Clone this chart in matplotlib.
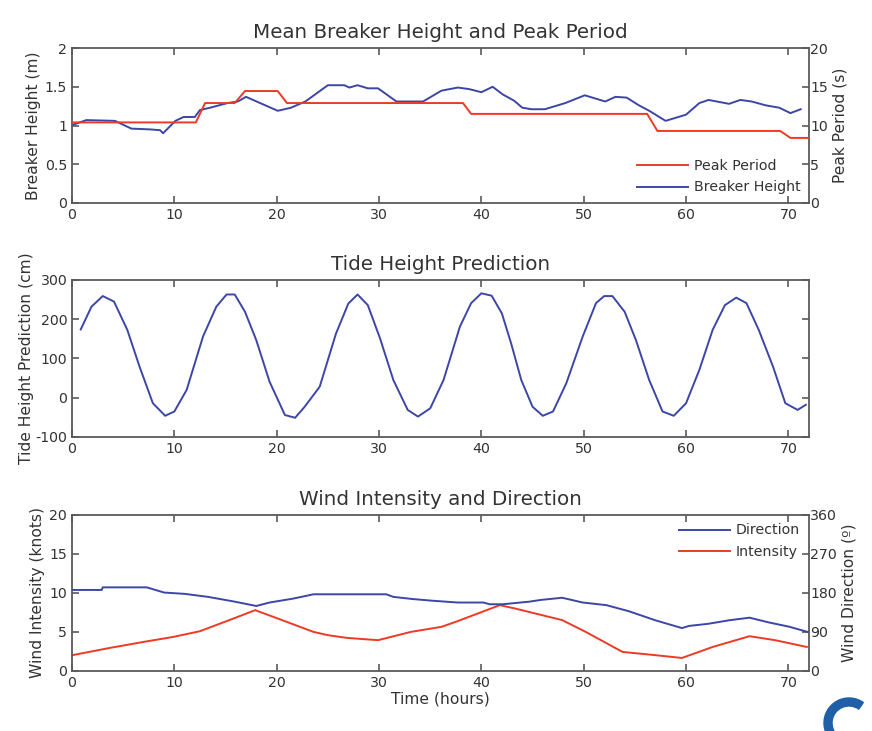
import matplotlib
matplotlib.use("Agg")
import matplotlib.pyplot as plt
from matplotlib.patches import Wedge
import numpy as np

plt.rcParams['font.family'] = ['DejaVu Sans']
plt.rcParams['axes.unicode_minus'] = False

# Data (hours, value)
bh_hours = [0.1, 1.4, 4.2, 5.8, 7.6, 8.6, 8.9, 10.1, 10.9, 12.0, 12.5, 13.5, 15.2, 16.2, 17.0,
            20.1, 21.4, 22.8, 25.0, 26.6, 27.1, 27.9, 28.9, 29.9, 31.7, 34.3, 36.1, 37.7,
            38.8, 40.0, 41.1, 42.1, 43.2, 44.0, 44.9, 46.2, 48.2, 50.1, 51.1, 52.1, 53.1,
            54.2, 55.4, 56.4, 58.0, 60.0, 61.3, 62.2, 64.2, 65.3, 66.4, 67.8, 69.1, 70.2, 71.2]
bh_m = [1.01, 1.07, 1.06, 0.96, 0.95, 0.94, 0.90, 1.06, 1.11, 1.11, 1.20, 1.23, 1.29, 1.31, 1.37,
        1.19, 1.23, 1.31, 1.52, 1.52, 1.49, 1.52, 1.48, 1.48, 1.31, 1.31, 1.45, 1.49,
        1.47, 1.43, 1.50, 1.40, 1.32, 1.23, 1.21, 1.21, 1.29, 1.39, 1.35, 1.31, 1.37,
        1.36, 1.26, 1.19, 1.06, 1.14, 1.29, 1.33, 1.28, 1.33, 1.31, 1.26, 1.23, 1.16, 1.21]

pp_hours = [0.0, 12.1, 13.0, 15.9, 16.9, 20.1, 21.0, 38.2, 39.0, 56.2, 57.2, 69.2, 70.2, 72.0]
pp_s = [10.4, 10.4, 12.9, 12.9, 14.45, 14.45, 12.9, 12.9, 11.5, 11.5, 9.3, 9.3, 8.4, 8.4]

tide_hours = [0.85, 1.9, 3.0, 4.1, 5.4, 6.6, 7.9, 9.1, 10.0, 11.2, 12.8, 14.1, 15.1, 15.9, 16.9,
              18.0, 19.3, 20.8, 21.8, 22.7, 24.2, 25.8, 27.0, 27.9, 28.9, 30.1, 31.4, 32.8,
              33.8, 35.0, 36.3, 37.9, 39.0, 40.0, 41.0, 42.0, 42.9, 43.9, 45.0, 46.0, 47.0,
              48.3, 49.9, 51.2, 52.0, 52.8, 54.0, 55.1, 56.4, 57.7, 58.8, 60.0, 61.3, 62.6,
              63.8, 64.9, 65.9, 67.1, 68.5, 69.7, 70.9, 71.7]
tide_cm = [174, 232, 259, 245, 173, 79, -14, -46, -35, 20, 156, 232, 263, 263, 219,
           147, 41, -44, -51, -24, 28, 164, 240, 263, 236, 151, 45, -31,
           -48, -27, 45, 181, 241, 266, 260, 215, 139, 45, -23, -46, -35,
           37, 156, 241, 259, 259, 219, 147, 45, -35, -46, -14, 71, 173,
           236, 255, 241, 173, 79, -14, -31, -18]

dir_hours = [0.0, 2.9, 3.0, 7.3, 9.0, 11.0, 13.3, 15.9, 18.0, 19.3, 21.6, 23.6, 30.7, 31.4,
             33.3, 35.3, 37.7, 40.2, 40.8, 42.1, 44.7, 45.8, 47.9, 49.9, 52.2, 54.4, 57.0,
             59.6, 60.3, 62.2, 64.2, 66.2, 68.1, 70.1, 71.9]
dir_deg = [187, 187, 193, 193, 181, 178, 171, 160, 150, 158, 167, 177, 177, 171,
           166, 162, 158, 158, 154, 154, 160, 164, 169, 158, 152, 138, 117,
           99, 104, 109, 117, 123, 112, 102, 90]

int_hours = [0.0, 3.7, 7.0, 9.9, 12.5, 15.1, 17.9, 20.1, 23.6, 25.0, 26.9, 29.9, 33.1, 36.1,
             37.7, 41.8, 43.3, 47.9, 50.2, 53.8, 56.4, 59.6, 62.6, 66.2, 68.7, 71.8]
int_kn = [2.02, 2.96, 3.73, 4.37, 5.1, 6.39, 7.8, 6.73, 5.01, 4.59, 4.24, 3.95, 5.01, 5.66,
          6.4, 8.44, 8.01, 6.52, 5.01, 2.44, 2.11, 1.67, 3.08, 4.46, 3.95, 3.08]

red = '#ee3a24'
blue = '#3c46a6'
spine_c = '#5a5a5a'
text_c = '#333333'
lw = 1.4
tick_fs = 10.2
label_fs = 11.2
title_fs = 14.3
legend_fs = 10.2


def style(ax):
    for s in ax.spines.values():
        s.set_color(spine_c)
        s.set_linewidth(1.3)
    ax.tick_params(direction='in', length=5, width=1.2, color=spine_c,
                   labelcolor=text_c, labelsize=tick_fs, top=True, right=False)
    ax.set_xlim(0, 72)
    ax.set_xticks([0, 10, 20, 30, 40, 50, 60, 70])


def style_right(ax):
    ax.tick_params(direction='in', length=5, width=1.2, color=spine_c,
                   labelcolor=text_c, labelsize=tick_fs, pad=1)
    for s in ax.spines.values():
        s.set_visible(False)


fig = plt.figure(figsize=(8.72, 7.31), dpi=100)

# Top: breaker height / peak period
ax1 = fig.add_axes([0.0826, 0.7223, 0.845, 0.212])
ax1r = ax1.twinx()
style(ax1)
style_right(ax1r)
ax1.plot(bh_hours, bh_m, color=blue, lw=lw, label='Breaker Height')
ax1r.plot(pp_hours, pp_s, color=red, lw=lw, label='Peak Period')
ax1.set_ylim(0, 2)
ax1.set_yticks([0, 0.5, 1, 1.5, 2])
ax1.set_yticklabels(['0', '0.5', '1', '1.5', '2'])
ax1r.set_ylim(0, 20)
ax1r.set_yticks([0, 5, 10, 15, 20])
ax1.set_ylabel('Breaker Height (m)', color=text_c, fontsize=label_fs, labelpad=3)
ax1r.set_ylabel('Peak Period (s)', color=text_c, fontsize=label_fs, labelpad=3)
ax1.set_title('Mean Breaker Height and Peak Period', color=text_c, fontsize=title_fs, pad=7)
h1, l1 = ax1r.get_legend_handles_labels()
h2, l2 = ax1.get_legend_handles_labels()
ax1r.legend(h1 + h2, l1 + l2, loc='lower right', frameon=False, fontsize=legend_fs,
            handlelength=3.6, labelcolor=text_c, borderaxespad=0.2, handletextpad=0.4,
            labelspacing=0.5)

# Middle: tide
ax2 = fig.add_axes([0.0826, 0.4022, 0.845, 0.2148])
style(ax2)
ax2.tick_params(right=True)
ax2.plot(tide_hours, tide_cm, color=blue, lw=lw)
ax2.set_ylim(-100, 300)
ax2.set_yticks([-100, 0, 100, 200, 300])
ax2.set_ylabel('Tide Height Prediction (cm)', color=text_c, fontsize=label_fs, labelpad=1)
ax2.set_title('Tide Height Prediction', color=text_c, fontsize=title_fs, pad=7)

# Bottom: wind
ax3 = fig.add_axes([0.0826, 0.0821, 0.845, 0.2134])
ax3r = ax3.twinx()
style(ax3)
style_right(ax3r)
ax3r.plot(dir_hours, dir_deg, color=blue, lw=lw, label='Direction')
ax3.plot(int_hours, int_kn, color=red, lw=lw, label='Intensity')
ax3.set_ylim(0, 20)
ax3.set_yticks([0, 5, 10, 15, 20])
ax3r.set_ylim(0, 360)
ax3r.set_yticks([0, 90, 180, 270, 360])
ax3.set_ylabel('Wind Intensity (knots)', color=text_c, fontsize=label_fs, labelpad=3)
ax3r.set_ylabel('Wind Direction (\u00ba)', color=text_c, fontsize=label_fs, labelpad=3)
ax3.set_xlabel('Time (hours)', color=text_c, fontsize=label_fs, labelpad=1)
ax3.set_title('Wind Intensity and Direction', color=text_c, fontsize=title_fs, pad=7)
h1, l1 = ax3r.get_legend_handles_labels()
h2, l2 = ax3.get_legend_handles_labels()
ax3r.legend(h1 + h2, l1 + l2, loc='upper right', frameon=False, fontsize=legend_fs,
            handlelength=3.6, labelcolor=text_c, borderaxespad=0.2, handletextpad=0.4,
            labelspacing=0.5)

# small logo swoosh in the corner (inch units so it stays round)
logo = Wedge((8.49, 0.08), 0.25, 55, 290, width=0.08,
             transform=fig.dpi_scale_trans, color='#1f5fa8', clip_on=False)
fig.patches.append(logo)

fig.savefig('out.png', dpi=100)
